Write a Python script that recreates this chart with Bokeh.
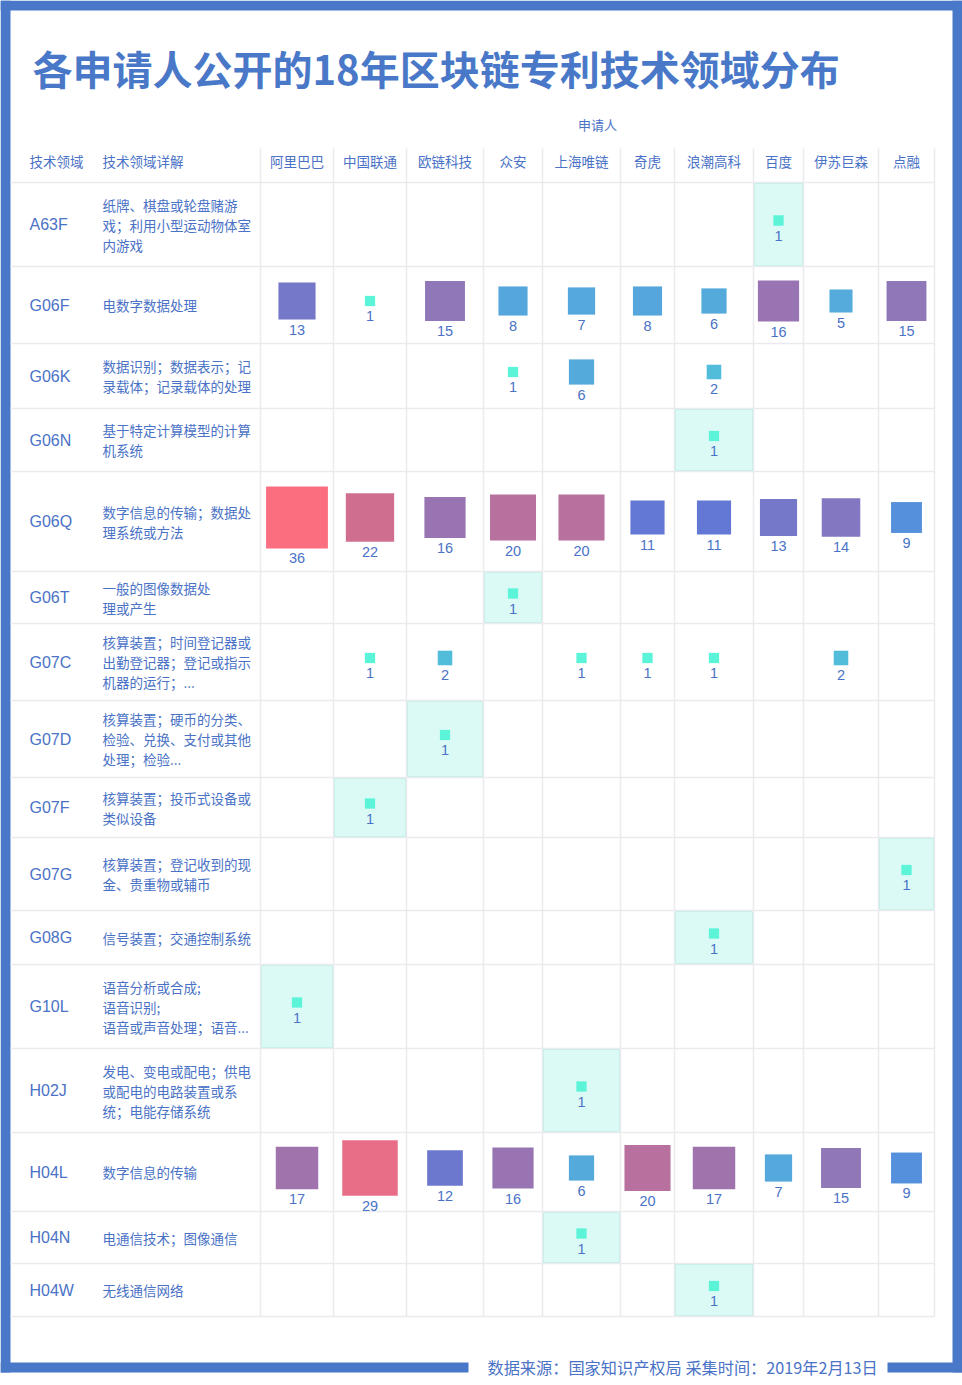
import math
from bokeh.plotting import figure
from bokeh.models import ColumnDataSource, Range1d, LinearColorMapper
from bokeh.core.properties import value
from bokeh.embed import file_html
from bokeh.resources import INLINE

# ---------------- data ----------------
title_text = "各申请人公开的18年区块链专利技术领域分布"
group_label = "申请人"
header_code = "技术领域"
header_detail = "技术领域详解"
footer_text = "数据来源：国家知识产权局  采集时间：2019年2月13日"

applicants = ["阿里巴巴", "中国联通", "欧链科技", "众安", "上海唯链",
              "奇虎", "浪潮高科", "百度", "伊苏巨森", "点融"]

codes = ["A63F", "G06F", "G06K", "G06N", "G06Q", "G06T", "G07C", "G07D",
         "G07F", "G07G", "G08G", "G10L", "H02J", "H04L", "H04N", "H04W"]

details = [
    ["纸牌、棋盘或轮盘赌游", "戏；利用小型运动物体室", "内游戏"],
    ["电数字数据处理"],
    ["数据识别；数据表示；记", "录载体；记录载体的处理"],
    ["基于特定计算模型的计算", "机系统"],
    ["数字信息的传输；数据处", "理系统或方法"],
    ["一般的图像数据处", "理或产生"],
    ["核算装置；时间登记器或", "出勤登记器；登记或指示", "机器的运行；..."],
    ["核算装置；硬币的分类、", "检验、兑换、支付或其他", "处理；检验..."],
    ["核算装置；投币式设备或", "类似设备"],
    ["核算装置；登记收到的现", "金、贵重物或辅币"],
    ["信号装置；交通控制系统"],
    ["语音分析或合成;", "语音识别;", "语音或声音处理；语音..."],
    ["发电、变电或配电；供电", "或配电的电路装置或系", "统；电能存储系统"],
    ["数字信息的传输"],
    ["电通信技术；图像通信"],
    ["无线通信网络"],
]

# patent counts per applicant (0 = none), in applicant order
A63F = [0, 0, 0, 0, 0, 0, 0, 1, 0, 0]
G06F = [13, 1, 15, 8, 7, 8, 6, 16, 5, 15]
G06K = [0, 0, 0, 1, 6, 0, 2, 0, 0, 0]
G06N = [0, 0, 0, 0, 0, 0, 1, 0, 0, 0]
G06Q = [36, 22, 16, 20, 20, 11, 11, 13, 14, 9]
G06T = [0, 0, 0, 1, 0, 0, 0, 0, 0, 0]
G07C = [0, 1, 2, 0, 1, 1, 1, 0, 2, 0]
G07D = [0, 0, 1, 0, 0, 0, 0, 0, 0, 0]
G07F = [0, 1, 0, 0, 0, 0, 0, 0, 0, 0]
G07G = [0, 0, 0, 0, 0, 0, 0, 0, 0, 1]
G08G = [0, 0, 0, 0, 0, 0, 1, 0, 0, 0]
G10L = [1, 0, 0, 0, 0, 0, 0, 0, 0, 0]
H02J = [0, 0, 0, 0, 1, 0, 0, 0, 0, 0]
H04L = [17, 29, 12, 16, 6, 20, 17, 7, 15, 9]
H04N = [0, 0, 0, 0, 1, 0, 0, 0, 0, 0]
H04W = [0, 0, 0, 0, 0, 0, 1, 0, 0, 0]
counts = [A63F, G06F, G06K, G06N, G06Q, G06T, G07C, G07D,
          G07F, G07G, G08G, G10L, H02J, H04L, H04N, H04W]

# ---------------- layout / style ----------------
W, H = 962, 1385
col_edges = [260, 333, 406, 483, 542, 620, 674, 753, 803, 878, 934]
row_edges = [182, 266, 343, 408, 471, 571, 623, 700, 777, 837, 910,
             964, 1048, 1132, 1211, 1263, 1316]
header_y = 160
group_y = 124
table_left = 10
line_step = 20
side_k = 10.3

BLUE = "#4a78c8"
TEXT = "#4a72c6"
GRID = "#ebebef"
HL_FILL = "#dcfaf5"
HL_LINE = "#c8f0e8"
CJK = "Noto Sans CJK SC"
LAT = "Liberation Sans"

stops = [(1, "#5cf4d8"), (2, "#52bdda"), (5, "#55acdc"), (8, "#55a6dc"),
         (9, "#5590dc"), (11, "#6378d4"), (13, "#7577c8"), (15, "#8f77b8"),
         (17, "#a073ad"), (20, "#b8709f"), (22, "#d06e90"), (29, "#e86e88"),
         (36, "#fa6e80")]


def hex2rgb(h):
    return tuple(int(h[i:i + 2], 16) for i in (1, 3, 5))


palette = []
for v in range(1, 37):
    for (a, ca), (b, cb) in zip(stops[:-1], stops[1:]):
        if a <= v <= b:
            t = (v - a) / (b - a) if b > a else 0
            ra, rb = hex2rgb(ca), hex2rgb(cb)
            palette.append("#%02x%02x%02x" % tuple(round(ra[k] + (rb[k] - ra[k]) * t) for k in range(3)))
            break
mapper = LinearColorMapper(palette=palette, low=0.5, high=36.5)

p = figure(width=W, height=H, x_range=Range1d(0, W), y_range=Range1d(H, 0),
           output_backend="svg", toolbar_location=None, min_border=0,
           x_axis_location=None, y_axis_location=None, outline_line_color=None,
           background_fill_color="white", border_fill_color="white")
p.grid.visible = False

# ---- frame ----
p.quad(left=[0, 0, 952, 0, 887], right=[10, 962, 962, 468, 962],
       top=[0, 0, 0, 1362, 1362], bottom=[1372, 10, 1372, 1372, 1372],
       fill_color=BLUE, line_color=None)

# ---- grid ----
hx0 = [table_left] * len(row_edges)
hx1 = [col_edges[-1]] * len(row_edges)
p.segment(x0=hx0, y0=row_edges, x1=hx1, y1=row_edges, line_color=GRID, line_width=1.5)
p.segment(x0=col_edges, y0=[148] * len(col_edges), x1=col_edges,
          y1=[row_edges[-1]] * len(col_edges), line_color=GRID, line_width=1.5)

row_c = [(a + b) / 2 for a, b in zip(row_edges[:-1], row_edges[1:])]
col_c = [(a + b) / 2 for a, b in zip(col_edges[:-1], col_edges[1:])]

# ---- highlight cells (rows with a single applicant) ----
hl = dict(l=[], r=[], t=[], b=[])
for i, row in enumerate(counts):
    nz = [j for j, v in enumerate(row) if v > 0]
    if len(nz) == 1:
        j = nz[0]
        hl["l"].append(col_edges[j] + 1)
        hl["r"].append(col_edges[j + 1] - 1)
        hl["t"].append(row_edges[i] + 1)
        hl["b"].append(row_edges[i + 1] - 1)
p.quad(left=hl["l"], right=hl["r"], top=hl["t"], bottom=hl["b"],
       fill_color=HL_FILL, line_color=HL_LINE, line_width=1)

# ---- squares & value labels ----
sq = dict(x=[], y=[], v=[], size=[], ly=[], label=[])
for i, row in enumerate(counts):
    for j, v in enumerate(row):
        if v > 0:
            s = side_k * math.sqrt(v)
            yc = row_c[i] - 4
            sq["x"].append(col_c[j])
            sq["y"].append(yc)
            sq["v"].append(v)
            sq["size"].append(s)
            sq["ly"].append(yc + s / 2 + 10)
            sq["label"].append(str(v))
src = ColumnDataSource(sq)
p.scatter(x="x", y="y", size="size", marker="square", source=src,
          fill_color={"field": "v", "transform": mapper}, line_color=None)
p.text(x="x", y="ly", text="label", source=src, text_font=value(LAT),
       text_font_size=value("14.5px"), text_color=TEXT, text_align="center",
       text_baseline="middle")

# ---- row labels ----
p.text(x=[29] * len(codes), y=row_c, text=codes, text_font=value(LAT),
       text_font_size=value("16px"), text_color=TEXT, text_align="left",
       text_baseline="middle")
dx, dy, dt = [], [], []
for i, lines in enumerate(details):
    n = len(lines)
    for k, ln in enumerate(lines):
        dx.append(102)
        dy.append(row_c[i] + (k - (n - 1) / 2) * line_step)
        dt.append(ln)
p.text(x=dx, y=dy, text=dt, text_font=value(CJK), text_font_size=value("13.5px"),
       text_color=TEXT, text_align="left", text_baseline="middle")

# ---- headers ----
p.text(x=col_c, y=[header_y] * len(applicants), text=applicants, text_font=value(CJK),
       text_font_size=value("13.5px"), text_color=TEXT, text_align="center",
       text_baseline="middle")
p.text(x=[29, 102], y=[header_y, header_y], text=[header_code, header_detail],
       text_font=value(CJK), text_font_size=value("13.5px"), text_color=TEXT,
       text_align="left", text_baseline="middle")
p.text(x=[(col_edges[0] + col_edges[-1]) / 2], y=[group_y], text=[group_label],
       text_font=value(CJK), text_font_size=value("13px"), text_color=TEXT,
       text_align="center", text_baseline="middle")

# ---- title & footer ----
p.text(x=[32], y=[67], text=[title_text], text_font=value(CJK),
       text_font_size=value("40px"), text_font_style="bold", text_color=BLUE,
       text_align="left", text_baseline="middle")
p.text(x=[487], y=[1366], text=[footer_text], text_font=value(CJK),
       text_font_size=value("16.2px"), text_color=TEXT, text_align="left",
       text_baseline="middle")

open("out.html", "w").write(file_html(p, INLINE))
